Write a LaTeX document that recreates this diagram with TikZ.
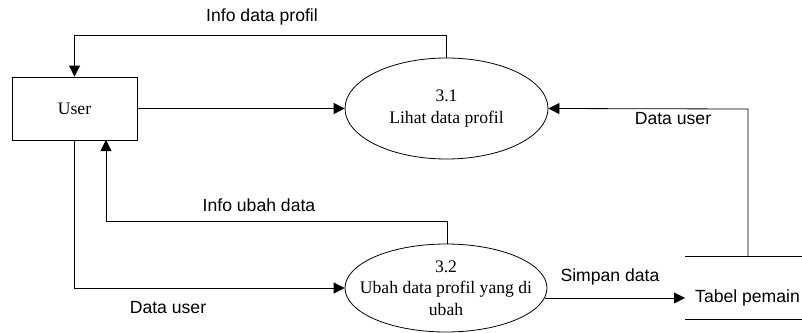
\documentclass[tikz,border=0pt]{standalone}
\usepackage{fontspec}
\setmainfont{Liberation Serif}
\setsansfont{Liberation Sans}
\usetikzlibrary{arrows.meta,shapes.geometric}
\newcommand{\ukuran}{\fontsize{17.6}{21.5}\selectfont}
\tikzset{
  flow/.style={draw,line width=0.8pt,-{Triangle[length=11pt,width=11pt]}},
  proses/.style={draw,line width=0.8pt,ellipse,inner xsep=-16pt,inner ysep=-2pt,align=center,font=\rmfamily\ukuran},
  entitas/.style={draw,line width=0.8pt,rectangle,inner sep=0pt,font=\rmfamily\ukuran},
  lbl/.style={font=\sffamily\ukuran,inner sep=1pt}
}
\begin{document}
\begin{tikzpicture}[x=1pt,y=-1pt]
    \useasboundingbox (0,0) rectangle (802,332);
    \node[entitas,minimum width=125pt,minimum height=63pt] (user) at (74.5,108.5) {User};
    \node[proses,minimum width=203pt,minimum height=101pt] (p31) at (446.5,108.5) {3.1\\Lihat data profil};
    \node[proses,minimum width=202pt,minimum height=88pt] (p32) at (446,288) {3.2\\Ubah data profil yang di\\ubah};
    \node[lbl,anchor=west,inner sep=0pt] (tabel) at (695,298) {Tabel pemain};
    \coordinate (tabelA) at (685,256);
    \coordinate (tabelB) at (685,319);
    \draw[line width=0.8pt] (tabelA)--(802,256);
    \draw[line width=0.8pt] (tabelB)--(802,319);
    % aliran ke dan dari proses 3.1
    \draw[flow] (p31.north)--(446.5,35)--(74.5,35)--(user.north);
    \node[lbl] (l1) at (262,17) {Info data profil};
    \draw[flow] (user.east)--(p31.west);
    \draw[flow] (748,256)--(748,109)--(p31.east);
    \node[lbl,fill=white] (l2) at (673,119) {Data user};
    % aliran ke dan dari proses 3.2
    \draw[flow] (447,244)--(447,221)--(106,221)--(106,140);
    \node[lbl] (l3) at (259,205) {Info ubah data};
    \draw[flow] (74.5,140)--(74.5,288)--(p32.west);
    \node[lbl] (l4) at (168,308) {Data user};
    \draw[flow] (544.5,298)--(685,298);
    \node[lbl] (l5) at (610,277) {Simpan data};
\end{tikzpicture}
\end{document}
